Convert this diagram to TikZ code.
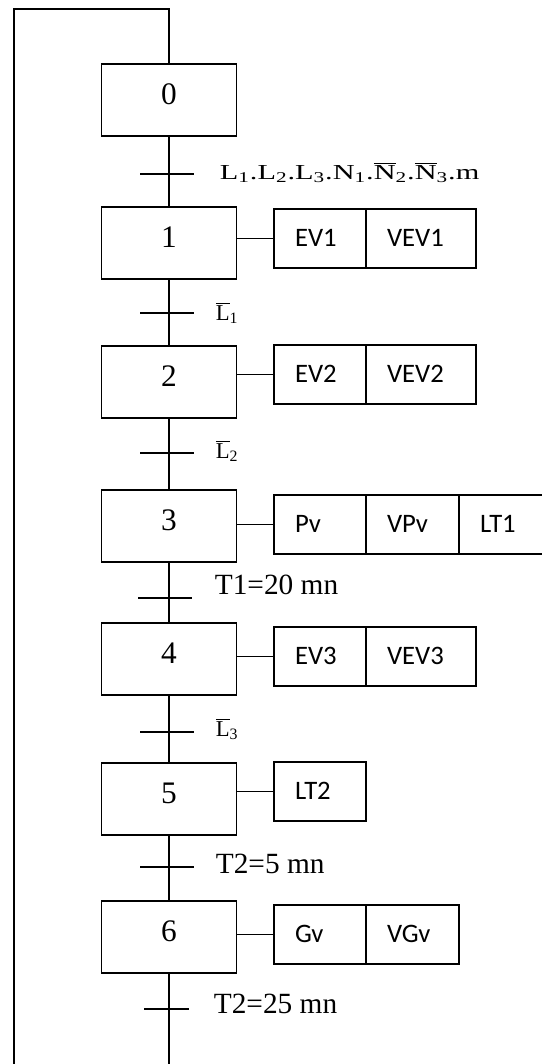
\documentclass[tikz,border=0pt]{standalone}
\usepackage{fontspec}
\setmainfont{Liberation Serif}
\newfontfamily\calib{Carlito}
\usetikzlibrary{positioning}
\newcommand{\barre}[1]{$\overline{\hbox{#1}}$}

\begin{document}
\begin{tikzpicture}[x=0.75pt,y=-0.75pt,line width=1.35pt,
	etape/.style={draw,anchor=north,minimum width=101.25pt,inner xsep=0pt,inner ysep=0pt,
		text height=30.75pt,text depth=23.25pt,font=\fontsize{23.5}{26}\selectfont},
	action/.style={draw,outer sep=0pt,text width=#1,inner xsep=15.75pt,inner ysep=0pt,align=left,
		text height=28.1pt,text depth=16.15pt,font=\calib\fontsize{20}{24}\selectfont},
	recept/.style={anchor=base west,inner sep=0pt,font=\fontsize{17}{20}\selectfont},
	tempo/.style={anchor=base west,inner sep=0pt,font=\fontsize{22}{26}\selectfont}]
	\useasboundingbox (0,0) rectangle (542,1064);
	% etapes
	\node[etape] (s0) at (169,63) {0};
	\node[etape] (s1) at (169,206) {1};
	\node[etape] (s2) at (169,345) {2};
	\node[etape] (s3) at (169,489) {3};
	\node[etape] (s4) at (169,622) {4};
	\node[etape] (s5) at (169,762) {5};
	\node[etape] (s6) at (169,900) {6};
	% actions
	\node[action=37.5pt,anchor=north west] (a1) at (274,209) {EV1};
	\node[action=51pt,right=0pt of a1] (a1b) {VEV1};
	\node[action=37.5pt,anchor=north west] (a2) at (274,345) {EV2};
	\node[action=51pt,right=0pt of a2] (a2b) {VEV2};
	\node[action=37.5pt,anchor=north west] (a3) at (274,495) {Pv};
	\node[action=38.25pt,right=0pt of a3] (a3b) {VPv};
	\node[action=38.25pt,right=0pt of a3b] (a3c) {LT1};
	\node[action=37.5pt,anchor=north west] (a4) at (274,627) {EV3};
	\node[action=51pt,right=0pt of a4] (a4b) {VEV3};
	\node[action=37.5pt,anchor=north west] (a5) at (274,762) {LT2};
	\node[action=37.5pt,anchor=north west] (a6) at (274,905) {Gv};
	\node[action=38.25pt,right=0pt of a6] (a6b) {VGv};
	\draw (s1.east |- a1.west) -- (a1.west);
	\draw (s2.east |- a2.west) -- (a2.west);
	\draw (s3.east |- a3.west) -- (a3.west);
	\draw (s4.east |- a4.west) -- (a4.west);
	\draw (s5.east |- a5.west) -- (a5.west);
	\draw (s6.east |- a6.west) -- (a6.west);
	% liaisons
	\coordinate (haut) at (169,9);
	\coordinate (hautg) at (14,9);
	\coordinate (basg) at (14,1070);
	\coordinate (bas) at (169,1070);
	\draw (s0) -- (haut) -- (hautg) -- (basg);
	\draw (s0) -- (s1);
	\draw (s1) -- (s2);
	\draw (s2) -- (s3);
	\draw (s3) -- (s4);
	\draw (s4) -- (s5);
	\draw (s5) -- (s6);
	\draw (s6) -- (bas);
	% transitions
	\coordinate (t0) at (169,174);
	\coordinate (t1) at (169,313);
	\coordinate (t2) at (169,453);
	\coordinate (t3) at (169,598);
	\coordinate (t4) at (169,732);
	\coordinate (t5) at (169,867);
	\coordinate (t6) at (169,1009);
	\draw (t0) +(-29,0) -- +(25,0);
	\draw (t1) +(-29,0) -- +(25,0);
	\draw (t2) +(-29,0) -- +(25,0);
	\draw (t3) +(-31,0) -- +(23,0);
	\draw (t4) +(-29,0) -- +(25,0);
	\draw (t5) +(-29,0) -- +(25,0);
	\draw (t6) +(-25,0) -- +(20,0);
	% receptivites
	\node[recept,font=\fontsize{16}{19}\selectfont] (r0) at (219,179)
		{\scalebox{1.42}[1]{L\textsubscript{1}.L\textsubscript{2}.L\textsubscript{3}.N\textsubscript{1}.\barre{N}\textsubscript{2}.\barre{N}\textsubscript{3}.m}};
	\node[recept] (r1) at (215,320) {\barre{L}\textsubscript{1}};
	\node[recept] (r2) at (215,458) {\barre{L}\textsubscript{2}};
	\node[tempo] (r3) at (214,594) {T1=20 mn};
	\node[recept] (r4) at (215,736) {\barre{L}\textsubscript{3}};
	\node[tempo] (r5) at (215,873) {T2=5 mn};
	\node[tempo] (r6) at (213,1013) {T2=25 mn};
\end{tikzpicture}
\end{document}
